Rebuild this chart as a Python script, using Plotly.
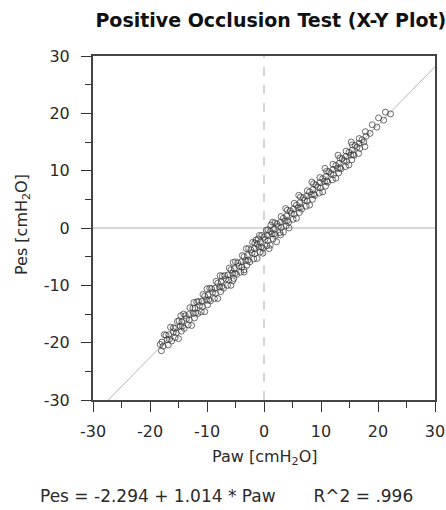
import plotly.graph_objects as go

# ---- data ----
paw = [
    -17.5, -16.4, -15.2, -14.1, -13.0, -11.8, -10.7, -9.5, -8.4, -7.3, -6.1, -5.0, -3.8, -2.7, -1.6, -0.4, 0.7, 1.9, 3.0, 4.1, 5.3, 6.4, 7.6, 8.7, 9.8, 11.0, 12.1, 13.3, 14.4, 15.5, 16.7, 17.8, 19.0, 20.1, 21.3,
    -18.2, -17.0, -15.9, -14.7, -13.6, -12.4, -11.3, -10.1, -9.0, -7.8, -6.7, -5.5, -4.4, -3.2, -2.1, -0.9, 0.2, 1.4, 2.5, 3.7, 4.8, 6.0, 7.1, 8.3, 9.4, 10.6, 11.7, 12.9, 14.0, 15.2, 16.3, 17.5, 18.6, 19.8, 21.0, 22.2,
    -18.0, -16.8, -15.6, -14.5, -13.3, -12.2, -11.0, -9.9, -8.7, -7.6, -6.4, -5.3, -4.1, -3.0, -1.8, -0.7, 0.5, 1.6, 2.8, 3.9, 5.1, 6.2, 7.4, 8.5, 9.7, 10.8, 12.0, 13.1, 14.3, 15.4, 16.6, 17.7,
    -17.2, -15.9, -14.9, -13.8, -12.5, -11.5, -10.4, -9.2, -8.1, -6.9, -5.8, -4.6, -3.5, -2.3, -1.2, 0.0, 1.1, 2.3, 3.4, 4.6, 5.7, 6.9, 8.0, 9.1, 10.3, 11.4, 12.6, 13.7, 14.9, 16.0, 17.2,
    -17.7, -16.6, -15.4, -14.3, -13.1, -12.0, -10.8, -9.7, -8.5, -7.4, -6.2, -5.1, -3.9, -2.8, -1.6, -0.5, 0.7, 1.8, 3.0, 4.1, 5.3, 6.4, 7.6, 8.7, 9.9, 11.0, 12.2, 13.3, 14.5, 15.6, 16.8,
    -17.9, -16.7, -15.6, -14.4, -13.2, -12.1, -10.9, -9.8, -8.6, -7.5, -6.3, -5.2, -4.0, -2.9, -1.7, -0.6, 0.6, 1.7, 2.9, 4.0, 5.2, 6.3, 7.5, 8.6, 9.8, 10.9, 12.1, 13.2, 14.4, 15.5, 16.7, 17.9,
    -16.2, -14.0, -11.6, -9.4, -7.1, -4.8, -2.5, -0.2, 2.0, 4.3, 6.6, 8.9, 11.2, 13.5, 15.8,
    -14.6, -12.3, -10.0, -7.7, -5.4, -3.1, -0.8, 1.5, 3.8, 6.1, 8.4, 10.7, 13.0, 15.3,
    -15.0, -12.7, -10.4, -8.1, -5.8, -3.5, -1.2, 1.1, 3.4, 5.7, 8.0, 10.3, 12.6, 14.9,
    -2.0, -1.0, 0.9, 1.2, -3.5, 2.2, 4.4, -5.5, -0.2, 0.4, -1.4, 2.9,
]
pes = [
    -18.6, -17.3, -16.3, -15.0, -13.9, -12.9, -11.6, -10.5, -9.3, -8.4, -7.0, -5.9, -4.8, -3.6, -2.6, -1.3, -0.3, 0.9, 2.0, 3.1, 4.3, 5.4, 6.5, 7.7, 8.8, 9.9, 11.1, 12.2, 13.4, 14.5, 15.6, 16.8, 18.0, 19.2, 20.2,
    -20.3, -19.5, -18.1, -17.2, -15.8, -14.9, -13.5, -12.6, -11.2, -10.3, -8.9, -7.9, -6.6, -5.7, -4.3, -3.3, -2.0, -1.0, 0.3, 1.2, 2.6, 3.5, 4.9, 5.8, 7.2, 8.1, 9.5, 10.4, 11.8, 12.7, 14.1, 15.0, 16.5, 17.6, 18.8, 19.9,
    -21.4, -20.4, -19.1, -18.0, -16.9, -15.7, -14.6, -13.4, -12.3, -11.1, -10.0, -8.8, -7.7, -6.5, -5.4, -4.2, -3.1, -1.9, -0.8, 0.4, 1.5, 2.7, 3.8, 5.0, 6.1, 7.3, 8.4, 9.6, 10.7, 11.9, 13.0, 14.2,
    -18.7, -17.4, -16.2, -15.3, -14.0, -12.8, -11.9, -10.6, -9.6, -8.3, -7.3, -6.1, -5.0, -3.8, -2.8, -1.6, -0.6, 0.7, 1.7, 3.0, 4.0, 5.3, 6.3, 7.5, 8.6, 9.8, 10.9, 12.1, 13.2, 14.4, 15.4,
    -20.6, -19.4, -18.3, -17.1, -16.0, -14.8, -13.7, -12.5, -11.4, -10.2, -9.1, -7.9, -6.8, -5.6, -4.5, -3.3, -2.2, -1.0, 0.1, 1.3, 2.4, 3.6, 4.7, 5.9, 7.0, 8.2, 9.3, 10.5, 11.6, 12.8, 13.9,
    -19.9, -18.6, -17.5, -16.4, -15.1, -14.0, -12.8, -11.7, -10.5, -9.4, -8.2, -7.1, -5.9, -4.8, -3.6, -2.5, -1.3, -0.2, 1.0, 2.1, 3.3, 4.4, 5.6, 6.7, 7.9, 9.0, 10.2, 11.3, 12.5, 13.6, 14.8, 16.0,
    -19.7, -17.5, -14.9, -12.7, -10.5, -8.1, -5.9, -3.5, -1.3, 1.0, 3.3, 5.7, 8.0, 10.3, 12.7,
    -15.3, -13.0, -10.6, -8.3, -6.0, -3.6, -1.3, 1.0, 3.4, 5.7, 8.0, 10.4, 12.7, 15.0,
    -19.3, -17.0, -14.6, -12.3, -10.0, -7.7, -5.3, -3.0, -0.7, 1.7, 4.0, 6.3, 8.7, 11.0,
    -2.5, -1.9, -3.6, 0.5, -7.3, -2.4, 0.0, -9.2, -4.4, -0.4, -2.1, -1.2,
]
intercept = -2.294
slope = 1.014
r2_text = ".996"
axis_range = [-30, 30]
tick_vals = [-30, -20, -10, 0, 10, 20, 30]
tick_text = ["-30", "-20", "-10", "0", "10", "20", "30"]

FONT = "DejaVu Sans"
TXT = "#2a2a2a"

# regression line endpoints computed from coefficients, clipped to the axis box
x_lo = (axis_range[0] - intercept) / slope
x_hi = axis_range[1]
reg_x = [x_lo, x_hi]
reg_y = [intercept + slope * v for v in reg_x]

fig = go.Figure()
fig.add_trace(go.Scatter(
    x=reg_x, y=reg_y, mode="lines",
    line=dict(color="#b8b8b8", width=1), hoverinfo="skip", showlegend=False,
))
fig.add_trace(go.Scatter(
    x=paw, y=pes, mode="markers",
    marker=dict(symbol="circle-open", size=6, color="rgba(60,60,60,0.75)", line=dict(width=1)),
    showlegend=False,
))

# zero reference lines
fig.add_shape(type="line", xref="x", yref="y", x0=axis_range[0], x1=axis_range[1], y0=0, y1=0,
              line=dict(color="#c8c8c8", width=1.5), layer="below")
fig.add_shape(type="line", xref="x", yref="y", x0=0, x1=0, y0=axis_range[0], y1=axis_range[1],
              line=dict(color="#c8c8c8", width=1.5, dash="dash"), layer="below")

axis_common = dict(
    range=axis_range, tickvals=tick_vals, ticktext=tick_text, ticks="outside", ticklen=10,
    tickwidth=1, tickcolor="#333", showgrid=False, zeroline=False, showline=True,
    linecolor="#444", linewidth=2, mirror=True, automargin=False,
    tickfont=dict(family=FONT, size=16, color=TXT),
    minor=dict(dtick=5, ticks="outside", ticklen=6, tickcolor="#333"),
)

fig.update_layout(
    width=446, height=510,
    margin=dict(l=93, r=11, t=56, b=110),
    paper_bgcolor="white", plot_bgcolor="white",
    title=dict(text="<b>Positive Occlusion Test (X-Y Plot)</b>", xref="paper", x=0.52,
               xanchor="center", y=1 - 20 / 510, yanchor="middle",
               font=dict(family=FONT, size=19, color="#111")),
    xaxis=dict(axis_common, ticklabelstandoff=6),
    yaxis=dict(axis_common, ticklabelstandoff=8),
)

PW, PH = 342, 344
fig.add_annotation(
    xref="paper", yref="paper", x=(265 - 93) / PW, y=-(457 - 400) / PH,
    xanchor="center", yanchor="middle", showarrow=False,
    text="Paw [cmH<sub>2</sub>O]", font=dict(family=FONT, size=16, color=TXT),
)
fig.add_annotation(
    xref="paper", yref="paper", x=(22 - 93) / PW, y=(400 - 225) / PH,
    xanchor="center", yanchor="middle", showarrow=False, textangle=-90,
    text="Pes [cmH<sub>2</sub>O]", font=dict(family=FONT, size=16, color=TXT),
)
fig.add_annotation(
    xref="paper", yref="paper", x=(38 - 93) / PW, y=-(496 - 400) / PH,
    xanchor="left", yanchor="middle", showarrow=False,
    text=f"Pes = {intercept} + {slope} * Paw&nbsp;&nbsp;&nbsp;&nbsp;&nbsp;&nbsp;&nbsp;R^2 = {r2_text}",
    font=dict(family=FONT, size=17, color=TXT),
)

fig.write_html("out.html")
